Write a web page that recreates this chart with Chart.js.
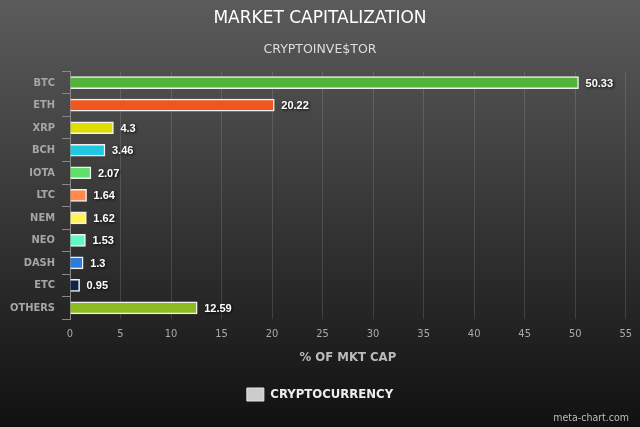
<!DOCTYPE html>
<html>
<head>
<meta charset="utf-8">
<script src="https://cdn.jsdelivr.net/npm/chart.js@4.4.1/dist/chart.umd.min.js"></script>
<style>
html,body{margin:0;padding:0;}
body{width:640px;height:427px;background:linear-gradient(#5b5b5b 0%,#3a3a3a 45%,#111 100%);overflow:hidden;}
#wrap{position:relative;width:640px;height:427px;}
</style>
</head>
<body>
<div id="wrap"><canvas id="c" width="640" height="427"></canvas></div>
<script>
const categories = ['BTC','ETH','XRP','BCH','IOTA','LTC','NEM','NEO','DASH','ETC','OTHERS'];
const values = [50.33, 20.22, 4.3, 3.46, 2.07, 1.64, 1.62, 1.53, 1.3, 0.95, 12.59];
const barColors = ['#52b33a','#f0571f','#dedf00','#22c8e2','#5fe06c','#ff8a4c','#fff25f','#62f7c3','#2e7bdd','#0d2444','#8bbb1f'];
const seriesName = 'CRYPTOCURRENCY';
const titleText = 'MARKET CAPITALIZATION';
const subtitleText = 'CRYPTOINVE$TOR';
const xAxisTitle = '% OF MKT CAP';
const watermark = 'meta-chart.com';

const FONT = '"DejaVu Sans Condensed","DejaVu Sans",sans-serif';
const FONT_R = '"DejaVu Sans",sans-serif';

const valueLabels = {
  id: 'valueLabels',
  afterDatasetsDraw(chart) {
    const ctx = chart.ctx;
    const meta = chart.getDatasetMeta(0);
    ctx.save();
    ctx.font = 'bold 11px "Liberation Sans", Arial, sans-serif';
    ctx.fillStyle = '#ffffff';
    ctx.textAlign = 'left';
    ctx.textBaseline = 'middle';
    ctx.shadowColor = 'rgba(0,0,0,0.9)';
    ctx.shadowBlur = 3;
    ctx.shadowOffsetX = 1;
    ctx.shadowOffsetY = 1;
    meta.data.forEach((bar, i) => {
      ctx.fillText(String(values[i]), bar.x + 7, bar.y + 1);
    });
    ctx.restore();
  }
};

const watermarkPlugin = {
  id: 'watermark',
  afterDraw(chart) {
    const ctx = chart.ctx;
    ctx.save();
    ctx.font = '10.5px ' + FONT;
    ctx.fillStyle = '#bbbbbb';
    ctx.textAlign = 'right';
    ctx.textBaseline = 'middle';
    ctx.fillText(watermark, 629, 418);
    ctx.restore();
  }
};

new Chart(document.getElementById('c'), {
  type: 'bar',
  data: {
    labels: categories,
    datasets: [{
      label: seriesName,
      data: values,
      backgroundColor: barColors,
      borderColor: '#f2f2f2',
      borderWidth: 1.5,
      barThickness: 12
    }]
  },
  options: {
    indexAxis: 'y',
    responsive: false,
    animation: false,
    layout: { padding: { top: 0, right: 10, bottom: 16, left: 10 } },
    plugins: {
      title: {
        display: true, text: titleText, color: '#ffffff',
        font: { family: FONT_R, size: 17, weight: 'normal' },
        padding: { top: 8.5, bottom: 13 }
      },
      subtitle: {
        display: true, text: subtitleText, color: '#dddddd',
        font: { family: FONT_R, size: 12.5, weight: 'normal' },
        padding: { top: 0, bottom: 14.5 }
      },
      legend: {
        position: 'bottom',
        labels: {
          color: '#eeeeee',
          font: { family: FONT, size: 13, weight: 'bold' },
          boxWidth: 17, boxHeight: 13,
          padding: 10,
          generateLabels() {
            return [{ text: seriesName, fillStyle: '#cccccc', strokeStyle: '#e6e6e6', lineWidth: 1, fontColor: '#eeeeee' }];
          }
        }
      },
      tooltip: { enabled: false }
    },
    scales: {
      x: {
        min: 0, max: 55,
        ticks: { stepSize: 5, color: '#aaaaaa', font: { family: FONT, size: 11 }, padding: 8 },
        grid: { color: 'rgba(255,255,255,0.13)', drawTicks: false },
        border: { display: false },
        title: { display: true, text: xAxisTitle, color: '#bbbbbb', font: { family: FONT, size: 13, weight: 'bold' }, padding: { top: 1, bottom: 13 } }
      },
      y: {
        ticks: { color: '#a6a6a6', font: { family: FONT, size: 11, weight: 'bold' }, padding: 7 },
        grid: { display: true, drawOnChartArea: false, offset: true, color: '#888888', tickLength: 8 },
        border: { display: true, color: '#888888' },
        afterFit(scale) { scale.width = 60; }
      }
    }
  },
  plugins: [valueLabels, watermarkPlugin]
});
</script>
</body>
</html>
